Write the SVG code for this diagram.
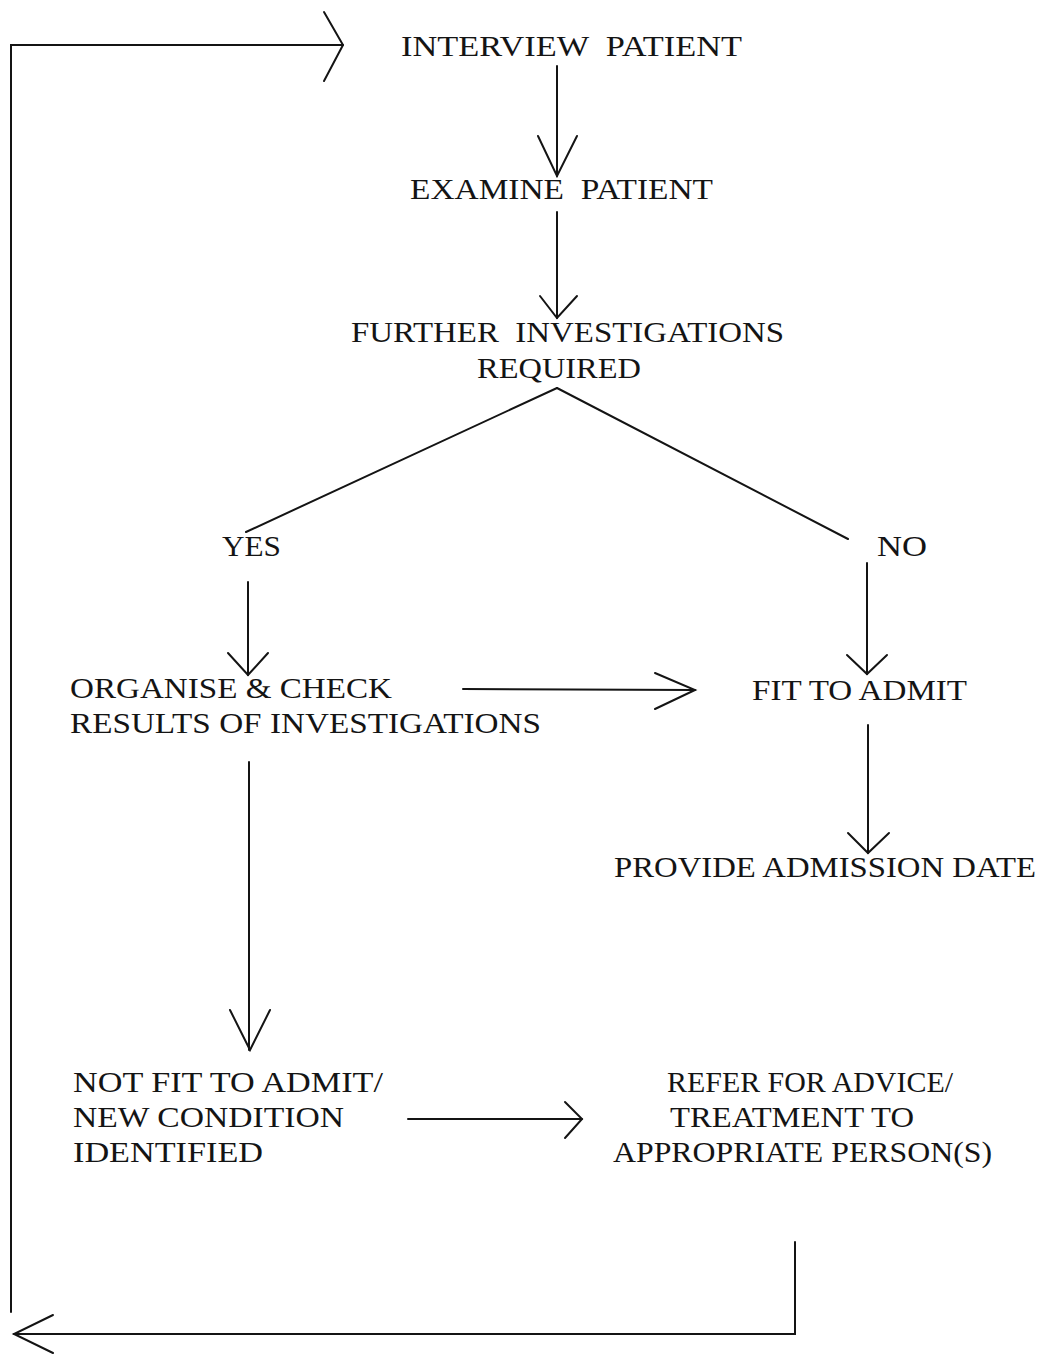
<svg xmlns="http://www.w3.org/2000/svg" width="1040" height="1356" viewBox="0 0 1040 1356">
<style>
.t{font-family:"Liberation Serif","Times New Roman",serif;font-size:30px;fill:#141414;white-space:pre}
.c line,.c polyline{stroke:#141414;stroke-width:2;fill:none;stroke-linecap:round;stroke-linejoin:miter}
</style>
<rect width="1040" height="1356" fill="#fff"/>
<g class="c" id="connectors">
<polyline points="11,1312 11,45 343,45"/>
<polyline points="324,12 343,45 324,81"/>
<line x1="557" y1="66" x2="557" y2="176"/>
<polyline points="538,136 557,176 577,136"/>
<line x1="557" y1="212" x2="557" y2="318"/>
<polyline points="540,296 557,318 577,296"/>
<line x1="557" y1="388" x2="246" y2="532"/>
<line x1="557" y1="388" x2="848" y2="539"/>
<line x1="248" y1="582" x2="248" y2="675"/>
<polyline points="228,653 248,675 268,653"/>
<line x1="463" y1="689" x2="695" y2="690"/>
<polyline points="655,673 695,690 655,709"/>
<line x1="867" y1="563" x2="867" y2="674"/>
<polyline points="847,655 867,674 887,655"/>
<line x1="868" y1="725" x2="868" y2="853"/>
<polyline points="848,833 868,853 889,833"/>
<line x1="249" y1="762" x2="249" y2="1050"/>
<polyline points="230,1010 250,1050 270,1010"/>
<line x1="408" y1="1119" x2="582" y2="1119"/>
<polyline points="565,1102 582,1119 565,1138"/>
<polyline points="795,1242 795,1334 14,1334"/>
<polyline points="53,1315 14,1334 53,1353"/>
</g>
<g id="n-interview"><text class="t" x="401" y="56" textLength="341" lengthAdjust="spacingAndGlyphs">INTERVIEW  PATIENT</text></g>
<g id="n-examine"><text class="t" x="410" y="199" textLength="303" lengthAdjust="spacingAndGlyphs">EXAMINE  PATIENT</text></g>
<g id="n-further"><text class="t" x="351" y="342" textLength="433" lengthAdjust="spacingAndGlyphs">FURTHER  INVESTIGATIONS</text>
<text class="t" x="477" y="378" textLength="164" lengthAdjust="spacingAndGlyphs">REQUIRED</text></g>
<g id="n-yes"><text class="t" x="222" y="556" textLength="59" lengthAdjust="spacingAndGlyphs">YES</text></g>
<g id="n-no"><text class="t" x="877" y="556" textLength="50" lengthAdjust="spacingAndGlyphs">NO</text></g>
<g id="n-organise"><text class="t" x="70" y="698" textLength="322" lengthAdjust="spacingAndGlyphs">ORGANISE &amp; CHECK</text>
<text class="t" x="70" y="733" textLength="471" lengthAdjust="spacingAndGlyphs">RESULTS OF INVESTIGATIONS</text></g>
<g id="n-fit"><text class="t" x="752" y="700" textLength="215" lengthAdjust="spacingAndGlyphs">FIT TO ADMIT</text></g>
<g id="n-provide"><text class="t" x="614" y="877" textLength="422" lengthAdjust="spacingAndGlyphs">PROVIDE ADMISSION DATE</text></g>
<g id="n-notfit"><text class="t" x="73" y="1092" textLength="310" lengthAdjust="spacingAndGlyphs">NOT FIT TO ADMIT/</text>
<text class="t" x="73" y="1127" textLength="271" lengthAdjust="spacingAndGlyphs">NEW CONDITION</text>
<text class="t" x="73" y="1162" textLength="190" lengthAdjust="spacingAndGlyphs">IDENTIFIED</text></g>
<g id="n-refer"><text class="t" x="667" y="1092" textLength="286" lengthAdjust="spacingAndGlyphs">REFER FOR ADVICE/</text>
<text class="t" x="670" y="1127" textLength="244" lengthAdjust="spacingAndGlyphs">TREATMENT TO</text>
<text class="t" x="613" y="1162" textLength="379" lengthAdjust="spacingAndGlyphs">APPROPRIATE PERSON(S)</text></g>
</svg>
